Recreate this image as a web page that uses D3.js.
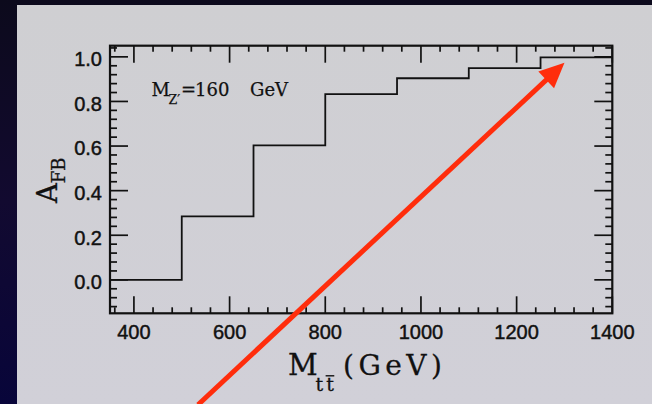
<!DOCTYPE html>
<html><head><meta charset="utf-8">
<script src="https://cdn.jsdelivr.net/npm/d3@7"></script>
<style>
html,body{margin:0;padding:0;background:#0b0a24;}
svg{display:block;}
</style></head>
<body>
<svg id="c" width="652" height="404"></svg>
<script>
// ---- data ----
const binEdges = [350, 500, 650, 800, 950, 1100, 1250, 1400];
const afbValues = [0.0, 0.285, 0.603, 0.833, 0.904, 0.949, 0.998];
const xMajorTicks = [400, 600, 800, 1000, 1200, 1400];
const yMajorTicks = [0.0, 0.2, 0.4, 0.6, 0.8, 1.0];
const xTickLabels = ["400", "600", "800", "1000", "1200", "1400"];
const yTickLabels = ["0.0", "0.2", "0.4", "0.6", "0.8", "1.0"];
const xDomain = [350, 1400];
const yDomain = [-0.15, 1.05];
const arrowFrom = [534, -0.56];   // data coords (annotation arrow)
const arrowTo = [1300, 0.973];

const svg = d3.select("#c");
// background
const defs = svg.append("defs");
const g1 = defs.append("linearGradient").attr("id","bg").attr("x1",0).attr("y1",0).attr("x2",0).attr("y2",1);
g1.append("stop").attr("offset","0").attr("stop-color","#0c0a1c");
g1.append("stop").attr("offset","0.5").attr("stop-color","#120a30");
g1.append("stop").attr("offset","1").attr("stop-color","#08053a");
svg.append("rect").attr("width",652).attr("height",404).attr("fill","url(#bg)");
const g2 = defs.append("linearGradient").attr("id","panel").attr("x1",0).attr("y1",0).attr("x2",0).attr("y2",1);
g2.append("stop").attr("offset","0").attr("stop-color","#cfcfd2");
g2.append("stop").attr("offset","1").attr("stop-color","#d1d0d8");
svg.append("rect").attr("x",17).attr("y",5).attr("width",635).attr("height",399).attr("fill","url(#panel)");

const x = d3.scaleLinear().domain(xDomain).range([110, 612.3]);
const y = d3.scaleLinear().domain(yDomain).range([313.3, 45.7]);

const plot = svg.append("g");
const ink = "#111";

// minor ticks
const xMinor = d3.range(360, 1400.1, 40).filter(v => !xMajorTicks.includes(v));
const yMinor = d3.range(-0.12, 1.041, 0.04).map(v => Math.round(v*100)/100).filter(v => !yMajorTicks.some(t => Math.abs(t-v)<1e-6));

function tickLines(vals, len, isX) {
  vals.forEach(v => {
    if (isX) {
      const px = x(v);
      plot.append("line").attr("x1",px).attr("x2",px).attr("y1",y.range()[0]).attr("y2",y.range()[0]-len).attr("stroke",ink).attr("stroke-width",1.7);
      plot.append("line").attr("x1",px).attr("x2",px).attr("y1",y.range()[1]).attr("y2",y.range()[1]+len).attr("stroke",ink).attr("stroke-width",1.7);
    } else {
      const py = y(v);
      plot.append("line").attr("y1",py).attr("y2",py).attr("x1",x.range()[0]).attr("x2",x.range()[0]+len).attr("stroke",ink).attr("stroke-width",1.7);
      plot.append("line").attr("y1",py).attr("y2",py).attr("x1",x.range()[1]).attr("x2",x.range()[1]-len).attr("stroke",ink).attr("stroke-width",1.7);
    }
  });
}
tickLines(xMinor, 6, true);
tickLines(xMajorTicks, 17, true);
tickLines(yMinor, 7, false);
tickLines(yMajorTicks, 18, false);

// frame
plot.append("rect").attr("x",x.range()[0]).attr("y",y.range()[1])
  .attr("width",x.range()[1]-x.range()[0]).attr("height",y.range()[0]-y.range()[1])
  .attr("fill","none").attr("stroke",ink).attr("stroke-width",2.2);

// step histogram
const pts = binEdges.map((e,i) => [e, i < afbValues.length ? afbValues[i] : afbValues[afbValues.length-1]]);
const line = d3.line().x(d => x(d[0])).y(d => y(d[1])).curve(d3.curveStepAfter);
plot.append("path").attr("d", line(pts)).attr("fill","none").attr("stroke",ink).attr("stroke-width",1.8);

// tick labels
const sans = "'Liberation Sans', Arial, sans-serif";
const serif = "'DejaVu Serif', 'Liberation Serif', serif";
xMajorTicks.forEach((v,i) => {
  svg.append("text").attr("x", x(v)).attr("y", 339).attr("text-anchor","middle")
    .attr("font-family",sans).attr("font-size",20).attr("fill",ink)
    .attr("stroke",ink).attr("stroke-width",0.45).text(xTickLabels[i]);
});
yMajorTicks.forEach((v,i) => {
  svg.append("text").attr("x", 102).attr("y", y(v)+9.3).attr("text-anchor","end")
    .attr("font-family",sans).attr("font-size",20).attr("fill",ink)
    .attr("stroke",ink).attr("stroke-width",0.45).text(yTickLabels[i]);
});

// annotation
const ann = svg.append("text").attr("font-family",serif).attr("fill",ink).attr("font-size",18).attr("y",96)
  .attr("stroke",ink).attr("stroke-width",0.25);
ann.append("tspan").attr("x",151.5).text("M");
ann.append("tspan").attr("font-size",12.5).attr("dy",8).attr("x",168.5).text("Z′");
ann.append("tspan").attr("dy",-8).attr("x",181).attr("font-size",18).text("=");
ann.append("tspan").attr("x",195).text("160");
ann.append("tspan").attr("x",250).text("GeV");

// x-axis label
const xl = svg.append("text").attr("font-family",serif).attr("fill",ink).attr("font-size",28).attr("y",374.5)
  .attr("stroke",ink).attr("stroke-width",0.3);
xl.append("tspan").attr("x",288).attr("font-size",29).text("M");
xl.append("tspan").attr("x",315.5).attr("dy",16).attr("font-size",19).attr("letter-spacing",3).text("tt");
xl.append("tspan").attr("x",343).attr("dy",-16).attr("letter-spacing",4.5).text("(GeV)");
// overline over the anti-top
{
  const node = xl.node();
  const ext = node.getExtentOfChar(2);
  svg.append("line").attr("x1",ext.x-0.5).attr("x2",ext.x+ext.width-2.5).attr("y1",375.8).attr("y2",375.8)
    .attr("stroke",ink).attr("stroke-width",1.4);
}

// y-axis label
const yl = svg.append("text").attr("font-family",serif).attr("fill",ink).attr("font-size",27.5)
  .attr("stroke",ink).attr("stroke-width",0.3)
  .attr("transform","translate(57,203) rotate(-90)");
yl.append("tspan").text("A");
yl.append("tspan").attr("font-size",18).attr("dy",8.3).text("FB");

// red arrow
const ax0 = x(arrowFrom[0]), ay0 = y(arrowFrom[1]), ax1 = x(arrowTo[0]), ay1 = y(arrowTo[1]);
const ang = Math.atan2(ay1-ay0, ax1-ax0);
const headLen = 25, headHalf = 11.5;
const bx = ax1 - headLen*Math.cos(ang), by = ay1 - headLen*Math.sin(ang);
const red = "#ff2d0c";
svg.append("line").attr("x1",ax0).attr("y1",ay0).attr("x2",bx+2*Math.cos(ang)).attr("y2",by+2*Math.sin(ang))
  .attr("stroke",red).attr("stroke-width",5);
const nx = -Math.sin(ang), ny = Math.cos(ang);
svg.append("polygon").attr("points",[
  [ax1, ay1],
  [bx + headHalf*nx, by + headHalf*ny],
  [bx - headHalf*nx, by - headHalf*ny]
].map(p=>p.join(",")).join(" ")).attr("fill",red);
</script>
</body></html>
